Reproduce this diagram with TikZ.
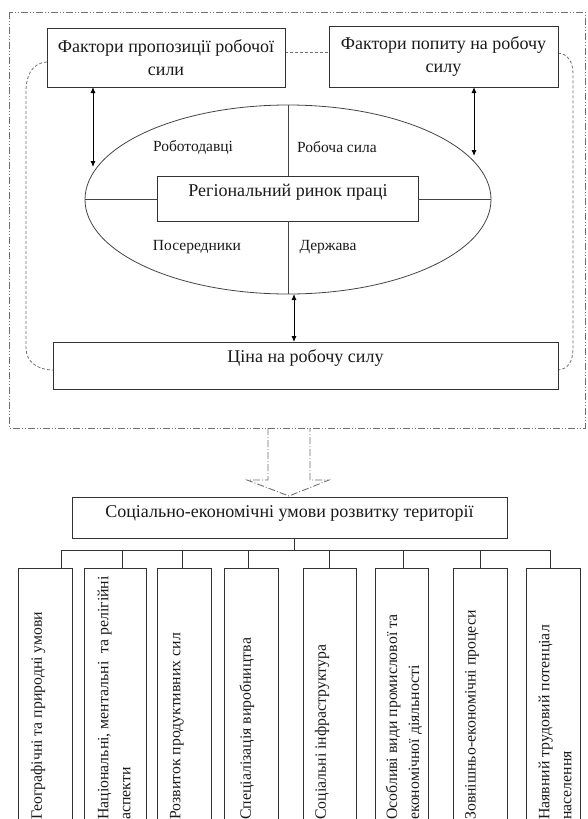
\documentclass[tikz,border=0pt]{standalone}
\usepackage{fontspec}
\setmainfont{Liberation Serif}
\usetikzlibrary{arrows.meta,shapes.geometric,calc}
\definecolor{boxc}{HTML}{333333}
\definecolor{ellc}{HTML}{444444}
\definecolor{framec}{HTML}{707070}
\definecolor{txtc}{HTML}{1A1A1A}
\begin{document}
\begin{tikzpicture}[x=1pt,y=-1pt,
  box/.style={draw=boxc, line width=0.9pt, fill=white, inner sep=0pt, outer sep=0pt, align=center, text=txtc, font=\fontsize{18}{23}\selectfont},
  lbl/.style={inner sep=0pt, text=txtc, font=\fontsize{15.5}{17}\selectfont},
  ttl/.style={inner sep=0pt, text=txtc, font=\fontsize{18}{20}\selectfont},
  vtxt/.style={rotate=90, anchor=west, inner sep=0pt, align=left, text=txtc, font=\fontsize{15.8}{22}\selectfont},
  dbl/.style={{Latex[length=6pt,width=5pt]}-{Latex[length=6pt,width=5pt]}, line width=0.9pt, draw=black},
  frame/.style={draw=framec, line width=0.9pt, dash pattern=on 7pt off 2pt on 1pt off 2pt on 1pt off 2pt},
  hollow/.style={draw=framec, line width=0.9pt, dash pattern=on 7pt off 2pt on 1pt off 2pt},
  inner/.style={draw=framec, line width=0.8pt, dash pattern=on 3pt off 2pt},
  thin/.style={draw=ellc, line width=0.8pt},
  tree/.style={draw=boxc, line width=0.9pt}]
\fill[white] (0,0) rectangle (587,819);
\clip (0,0) rectangle (587,819);

% outer dash-dot frame
\draw[frame] (9,12) rectangle (585,428);

% inner dashed rounded path
\draw[inner] (47,62) .. controls (32,63) and (26,75) .. (26,92) -- (26,348) .. controls (26,362) and (38,370) .. (53,370);
\draw[inner] (285,52) -- (329,52);
\draw[inner] (558,53) .. controls (568,54) and (573,62) .. (573,74) -- (573,348) .. controls (573,362) and (568,369) .. (558,370);

% ellipse
\node[ellipse, draw=ellc, line width=0.8pt, fill=white, inner sep=0pt, outer sep=0pt,
      minimum width=406pt, minimum height=189pt] (ell) at (288,199.5) {};

% top boxes
\node[box, minimum width=238pt, minimum height=59pt] (f1) at (166,57.5) {Фактори пропозиції робочої\\сили};
\node[box, minimum width=229pt, minimum height=61pt] (f2) at (443.5,56.5) {Фактори попиту на робочу\\силу};

% central box
\node[box, minimum width=261pt, minimum height=45pt] (rr) at (287.5,198.5) {};
\node[ttl] (trr) at (288,192) {Регіональний ринок праці};

% lines inside ellipse
\draw[thin] (ell.north) -- (ell.north |- rr.north);
\draw[thin] (ell.south |- rr.south) -- (ell.south);
\draw[thin] (ell.west) -- (ell.west -| rr.west);
\draw[thin] (ell.east -| rr.east) -- (ell.east);

% labels in ellipse
\node[lbl] (l1) at (193,147) {Роботодавці};
\node[lbl] (l2) at (337,147) {Робоча сила};
\node[lbl] (l3) at (197,247) {Посередники};
\node[lbl] (l4) at (328,247) {Держава};

% price box
\node[box, minimum width=505pt, minimum height=47pt] (price) at (305.5,365.5) {};
\node[ttl] (tprice) at (305.5,358) {Ціна на робочу силу};

% double arrows
\coordinate (la) at (93,167);
\coordinate (ra) at (474,156);
\coordinate (ba) at (294,294);
\draw[dbl] (f1.south -| la) -- (la);
\draw[dbl] (f2.south -| ra) -- (ra);
\draw[dbl] (ba) -- (ba |- price.north);

% hollow arrow
\draw[hollow] (268,428) -- (268,480) -- (247,480) -- (289,496) -- (329,480) -- (310,480) -- (310,428);

% socio-economic box
\node[box, minimum width=435pt, minimum height=41pt] (soc) at (289.5,517.5) {};
\node[ttl] (tsoc) at (289.5,513) {Соціально-економічні умови розвитку території};

% bottom boxes
\node[box, minimum width=54pt, minimum height=262pt] (b1) at (45,699) {};
\node[box, minimum width=62pt, minimum height=262pt] (b2) at (115,699) {};
\node[box, minimum width=54pt, minimum height=262pt] (b3) at (184,699) {};
\node[box, minimum width=54pt, minimum height=262pt] (b4) at (251,699) {};
\node[box, minimum width=53pt, minimum height=262pt] (b5) at (329.5,699) {};
\node[box, minimum width=53pt, minimum height=262pt] (b6) at (401.5,699) {};
\node[box, minimum width=54pt, minimum height=262pt] (b7) at (480,699) {};
\node[box, minimum width=54pt, minimum height=262pt] (b8) at (553,699) {};

% tree
\coordinate (stem) at (294,550);
\draw[tree] (soc.south -| stem) -- (stem);
\draw[tree] ([xshift=16pt]b1.north) |- (stem);
\draw[tree] ([xshift=7pt]b2.north) |- (stem);
\draw[tree] ([xshift=-2pt]b3.north) |- (stem);
\draw[tree] ([xshift=-3pt]b4.north) |- (stem);
\draw[tree] ([xshift=-0.5pt]b5.north) |- (stem);
\draw[tree] ([xshift=1.5pt]b6.north) |- (stem);
\draw[tree] (b7.north) |- (stem);
\draw[tree] ([xshift=-3pt]b8.north) |- (stem);

% vertical texts
\node[vtxt] (v1) at (38,820) {Географічні та природні умови};
\node[vtxt] (v2) at (114,820) {Національні, ментальні\ \ та релігійні\\аспекти};
\node[vtxt] (v3) at (177,820) {Розвиток продуктивних сил};
\node[vtxt] (v4) at (247,820) {Спеціалізація виробництва};
\node[vtxt] (v5) at (322,820) {Соціальні інфраструктура};
\begin{scope}
\clip (376,569) rectangle (421,819);
\node[vtxt] (v6) at (404,820) {Особливі види промислової та\\економічної діяльності};
\end{scope}
\node[vtxt] (v7) at (472,820) {Зовнішньо-економічні процеси};
\node[vtxt] (v8) at (555,820) {Наявний трудовий потенціал\\населення};
\end{tikzpicture}
\end{document}
